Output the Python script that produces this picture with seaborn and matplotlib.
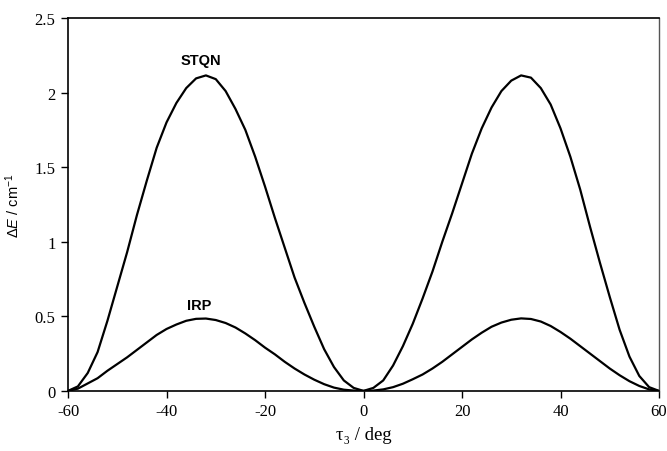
import numpy as np
import pandas as pd
import matplotlib
matplotlib.use("Agg")
import matplotlib.pyplot as plt
import seaborn as sns

# torsion angle (deg) and energy splittings (cm-1)
tau = list(range(-60, 61, 2))
stqn = [0.00, 0.03, 0.12, 0.26, 0.47, 0.70, 0.93, 1.18, 1.41, 1.63, 1.80, 1.93, 2.03, 2.095, 2.115, 2.09,
        2.01, 1.89, 1.75, 1.57, 1.37, 1.16, 0.96, 0.76, 0.59, 0.43, 0.28, 0.16, 0.07, 0.02,
        0.00,
        0.02, 0.07, 0.17, 0.30, 0.45, 0.62, 0.80, 1.00, 1.19, 1.39, 1.59, 1.76, 1.90, 2.01, 2.08,
        2.115, 2.10, 2.03, 1.92, 1.76, 1.57, 1.35, 1.10, 0.86, 0.63, 0.41, 0.23, 0.10, 0.025, 0.00]
irp = [0.00, 0.015, 0.05, 0.085, 0.135, 0.18, 0.225, 0.275, 0.325, 0.375, 0.415, 0.445, 0.47, 0.483, 0.485, 0.475,
       0.455, 0.425, 0.385, 0.34, 0.29, 0.245, 0.195, 0.15, 0.11, 0.075, 0.045, 0.022, 0.008, 0.002,
       0.00,
       0.002, 0.01, 0.025, 0.048, 0.078, 0.11, 0.15, 0.195, 0.245, 0.295, 0.345, 0.39, 0.43, 0.458, 0.477,
       0.486, 0.482, 0.465, 0.435, 0.395, 0.35, 0.30, 0.25, 0.20, 0.15, 0.105, 0.065, 0.033, 0.01, 0.00]
xticks = [-60, -40, -20, 0, 20, 40, 60]
yticks = [0, 0.5, 1, 1.5, 2, 2.5]
ytick_labels = ["0", "0.5", "1", "1.5", "2", "2.5"]

sns.set_style("ticks")
plt.rcParams["axes.unicode_minus"] = False
plt.rcParams["text.color"] = "black"
plt.rcParams["axes.labelcolor"] = "black"
plt.rcParams["xtick.color"] = "black"
plt.rcParams["ytick.color"] = "black"
plt.rcParams["mathtext.fontset"] = "custom"
plt.rcParams["mathtext.rm"] = "Liberation Sans"
plt.rcParams["mathtext.it"] = "Liberation Sans:italic"

df = pd.DataFrame({"tau": tau, "STQN": stqn, "IRP": irp})

fig = plt.figure(figsize=(6.67, 4.52), dpi=100)
ax = fig.add_axes([0.102, 0.133, 0.886, 0.825])

sns.lineplot(data=df, x="tau", y="STQN", color="black", lw=1.6, ax=ax)
sns.lineplot(data=df, x="tau", y="IRP", color="black", lw=1.6, ax=ax)

ax.set_xlim(-60, 60)
ax.set_ylim(0, 2.5)
ax.set_xticks(xticks)
ax.set_xticklabels([str(t) for t in xticks])
ax.set_yticks(yticks)
ax.set_yticklabels(ytick_labels)
for lab in ax.get_xticklabels() + ax.get_yticklabels():
    lab.set_family(["Liberation Serif", "DejaVu Serif"])
    lab.set_fontsize(12)
    lab.set_color("black")
ax.tick_params(direction="out", length=5, width=1, color="black", pad=4)

for s in ["left", "bottom", "top"]:
    ax.spines[s].set_color("black")
    ax.spines[s].set_linewidth(1.2)
ax.spines["right"].set_color("#555555")
ax.spines["right"].set_linewidth(1.0)

ax.set_xlabel("τ₃ / deg", family=["Liberation Serif", "DejaVu Serif"], fontsize=13.5, labelpad=5, color="black")
ax.set_ylabel(r"Δ$\mathit{E}$ / cm$^{-1}$", family=["Liberation Sans", "DejaVu Sans"], fontsize=10.5,
              labelpad=9, color="black")

ax.text(-33.1, 2.22, "STQN", ha="center", va="center", fontsize=10.5, fontweight="bold", color="black",
        family=["Liberation Sans", "DejaVu Sans"])
ax.text(-33.3, 0.575, "IRP", ha="center", va="center", fontsize=10.5, fontweight="bold", color="black",
        family=["Liberation Sans", "DejaVu Sans"])

fig.savefig("out.png", dpi=100, facecolor="white")
